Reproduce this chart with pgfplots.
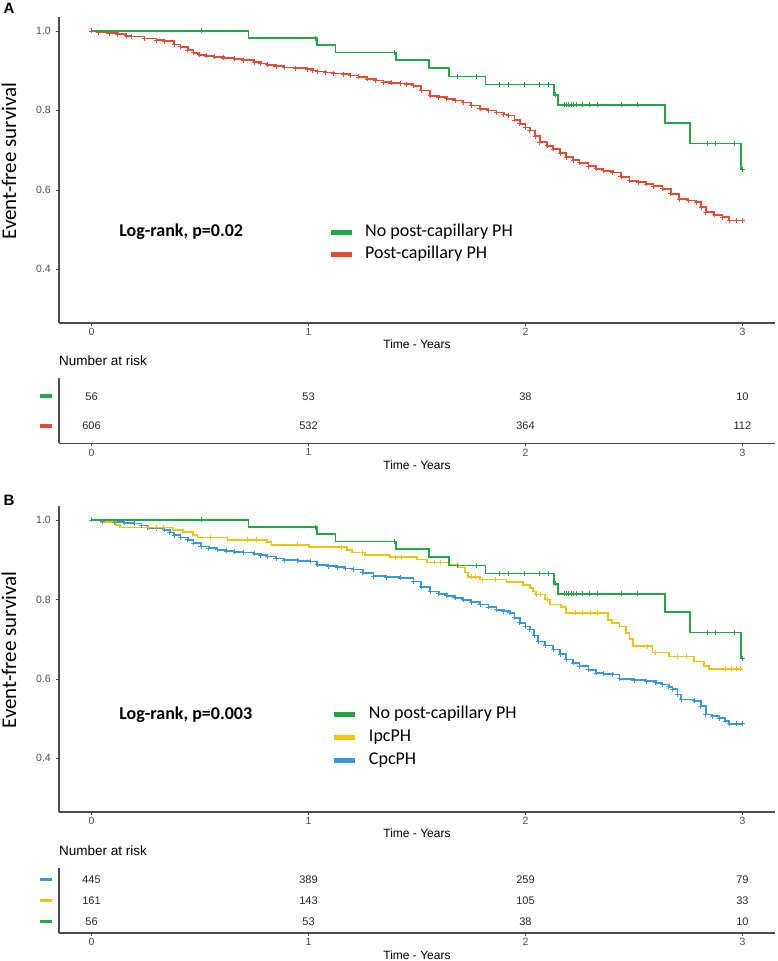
\documentclass[border=0pt]{standalone}
\usepackage{fontspec}
\setmainfont{Liberation Sans}
\newfontfamily\carlito{Carlito}
\usepackage{pgfplots}
\pgfplotsset{compat=1.18}
\usepackage{pgfplotstable}

\definecolor{cgreen}{RGB}{33,166,72}
\definecolor{cred}{RGB}{230,75,53}
\definecolor{cyel}{RGB}{240,194,12}
\definecolor{cblue}{RGB}{58,151,221}
\definecolor{axgray}{RGB}{77,77,77}

% Green: No post-capillary PH (steps)
\pgfplotstableread{
t s
0 1.0
0.723 0.982
1.04 0.964
1.124 0.946
1.403 0.927
1.556 0.906
1.649 0.885
1.815 0.865
2.131 0.839
2.15 0.814
2.643 0.769
2.758 0.717
2.992 0.651
3.0 0.651
}\greenS
\pgfplotstableread{
t s
0.504 1.0
1.03 0.982
1.395 0.946
1.686 0.885
1.775 0.885
1.882 0.865
1.92 0.865
1.994 0.865
2.066 0.865
2.104 0.865
2.14 0.839
2.18 0.814
2.19 0.814
2.20 0.814
2.21 0.814
2.22 0.814
2.235 0.814
2.26 0.814
2.295 0.814
2.33 0.814
2.444 0.814
2.515 0.814
2.839 0.717
2.874 0.717
2.965 0.717
3.0 0.651
}\greenC
% Red: Post-capillary PH
\pgfplotstableread{
t s
0 1.0
0.03 0.997
0.08 0.994
0.121 0.992
0.16 0.988
0.182 0.986
0.244 0.981
0.30 0.977
0.335 0.974
0.381 0.966
0.41 0.960
0.443 0.952
0.47 0.945
0.496 0.940
0.53 0.937
0.565 0.935
0.61 0.932
0.657 0.930
0.70 0.926
0.749 0.921
0.78 0.918
0.810 0.915
0.85 0.911
0.887 0.908
0.94 0.906
0.994 0.904
1.02 0.900
1.040 0.898
1.08 0.895
1.116 0.893
1.16 0.891
1.193 0.888
1.23 0.884
1.270 0.879
1.31 0.875
1.346 0.871
1.38 0.869
1.423 0.868
1.45 0.866
1.484 0.862
1.52 0.850
1.560 0.837
1.60 0.833
1.637 0.829
1.675 0.825
1.713 0.820
1.75 0.812
1.790 0.804
1.83 0.800
1.867 0.795
1.90 0.790
1.920 0.787
1.95 0.776
1.974 0.766
2.00 0.757
2.020 0.749
2.045 0.735
2.066 0.720
2.10 0.711
2.127 0.703
2.16 0.692
2.188 0.682
2.22 0.675
2.249 0.668
2.29 0.660
2.326 0.653
2.36 0.648
2.402 0.644
2.44 0.633
2.479 0.623
2.52 0.619
2.556 0.615
2.59 0.609
2.632 0.603
2.67 0.590
2.709 0.577
2.75 0.573
2.786 0.569
2.81 0.556
2.831 0.544
2.87 0.537
2.908 0.531
2.938 0.523
2.97 0.523
3.0 0.523
}\redS
% Yellow: IpcPH
\pgfplotstableread{
t s
0 1.0
0.045 0.994
0.113 0.987
0.13 0.981
0.374 0.975
0.42 0.969
0.466 0.962
0.489 0.956
0.627 0.950
0.810 0.944
0.83 0.937
1.001 0.931
1.178 0.925
1.20 0.918
1.26 0.912
1.377 0.906
1.499 0.900
1.545 0.893
1.645 0.887
1.690 0.880
1.72 0.868
1.736 0.857
1.790 0.850
1.913 0.843
1.989 0.837
2.020 0.829
2.035 0.820
2.050 0.812
2.089 0.800
2.112 0.787
2.165 0.781
2.188 0.766
2.379 0.748
2.40 0.741
2.433 0.732
2.464 0.716
2.48 0.700
2.494 0.682
2.586 0.666
2.663 0.656
2.778 0.644
2.824 0.632
2.847 0.625
3.0 0.625
}\yelS
\pgfplotstableread{
t s
0.26 0.981
0.30 0.981
0.33 0.981
0.55 0.956
0.72 0.950
0.76 0.950
0.95 0.937
1.15 0.931
1.25 0.918
1.40 0.906
1.43 0.906
1.58 0.893
1.61 0.893
1.75 0.857
1.77 0.857
1.80 0.850
1.86 0.850
2.05 0.812
2.07 0.812
2.10 0.800
2.23 0.766
2.26 0.766
2.30 0.766
2.33 0.766
2.56 0.682
2.60 0.666
2.70 0.656
2.74 0.656
2.92 0.625
2.95 0.625
2.97 0.625
2.99 0.625
}\yelC
% Blue: CpcPH
\pgfplotstableread{
t s
0 1.0
0.05 0.997
0.106 0.994
0.15 0.993
0.198 0.991
0.23 0.986
0.259 0.980
0.30 0.978
0.335 0.975
0.36 0.968
0.381 0.962
0.41 0.956
0.443 0.950
0.47 0.942
0.504 0.933
0.54 0.929
0.580 0.925
0.62 0.922
0.657 0.920
0.70 0.918
0.749 0.915
0.78 0.911
0.810 0.908
0.85 0.903
0.887 0.899
0.95 0.897
1.009 0.895
1.040 0.887
1.09 0.884
1.132 0.881
1.17 0.878
1.208 0.875
1.25 0.867
1.300 0.858
1.36 0.856
1.423 0.854
1.484 0.845
1.52 0.832
1.560 0.820
1.60 0.814
1.637 0.809
1.675 0.804
1.713 0.799
1.75 0.793
1.790 0.787
1.83 0.781
1.867 0.774
1.90 0.770
1.928 0.766
1.95 0.754
1.974 0.741
2.00 0.732
2.020 0.724
2.04 0.709
2.058 0.694
2.09 0.684
2.127 0.674
2.16 0.662
2.188 0.649
2.22 0.640
2.249 0.632
2.29 0.623
2.326 0.615
2.36 0.613
2.402 0.611
2.433 0.600
2.50 0.597
2.556 0.594
2.60 0.590
2.632 0.586
2.66 0.580
2.678 0.574
2.70 0.561
2.717 0.548
2.778 0.545
2.808 0.531
2.831 0.510
2.86 0.506
2.893 0.501
2.92 0.494
2.938 0.487
2.97 0.487
3.0 0.487
}\blueS

\pgfplotsset{
  km/.style={
    scale only axis, width=716pt, height=306pt, anchor=south west,
    xmin=-0.15, xmax=3.15, ymin=0.265, ymax=1.035,
    axis x line=bottom, axis y line=left,
    axis line style={-, line width=1.1pt, black!70},
    tick align=outside, major tick length=3pt,
    tick style={black!70, line width=0.6pt},
    xtick={0,1,2,3}, xticklabels={0,1,2,3},
    ytick={0.4,0.6,0.8,1.0}, yticklabels={0.4,0.6,0.8,1.0},
    xticklabel style={font=\fontsize{10.5}{12}\selectfont, text=axgray, anchor=north, inner sep=0pt, yshift=-2pt},
    yticklabel style={font=\fontsize{10.5}{12}\selectfont, text=axgray, anchor=east, inner sep=0pt, xshift=-5pt},
    xlabel={Time - Years},
    xlabel style={font=\fontsize{12}{14}\selectfont, at={(axis description cs:0.5,0)}, anchor=base, yshift=-26pt},
    ylabel={Event-free survival},
    ylabel style={font=\carlito\fontsize{21}{24}\selectfont, at={(axis description cs:-0.0698,0.529)}, anchor=center},
    legend cell align=left,
    legend image code/.code={\draw[line width=5pt] (0pt,0pt) -- (21pt,0pt);},
  },
  rt/.style={
    scale only axis, width=716pt, height=65pt, anchor=south west,
    xmin=-0.15, xmax=3.15,
    axis x line=bottom, axis y line=left,
    axis line style={-, line width=1.1pt, black!70},
    tick align=outside, major tick length=3pt,
    xtick style={black!70, line width=0.6pt}, ytick style={draw=none},
    xtick={0,1,2,3}, xticklabels={0,1,2,3},
    xticklabel style={font=\fontsize{10.5}{12}\selectfont, text=axgray, anchor=north, inner sep=0pt, yshift=-2pt},
    yticklabel style={anchor=east, inner sep=0pt, xshift=-4pt},
    xlabel={Time - Years},
    xlabel style={font=\fontsize{12}{14}\selectfont, at={(axis description cs:0.5,0)}, anchor=base, yshift=-26pt},
    title={Number at risk},
    title style={at={(axis description cs:0,1)}, anchor=base west, yshift=7pt, font=\fontsize{13.5}{15}\selectfont, inner sep=0pt},
  },
  curve/.style={const plot, no marks, line width=1.7pt},
  cens/.style={only marks, mark=+, mark size=2.5pt, mark options={line width=0.8pt}},
  risk/.style={draw=none, mark=none, nodes near coords, point meta=explicit symbolic,
    every node near coord/.style={anchor=center, font=\fontsize{11}{13}\selectfont, text=black!85}},
}

\begin{document}
\begin{tikzpicture}
\useasboundingbox (0,0) rectangle (777pt,961pt);

% ---------- Panel A ----------
\begin{axis}[km, at={(59pt,638pt)},
  legend style={draw=none, fill=none, inner sep=0pt, at={(0.3757,0.3235)}, anchor=north west,
    font=\carlito\fontsize{18}{20}\selectfont, row sep=6pt,
    nodes={inner sep=0pt, text height=12pt, text depth=4pt, xshift=0pt},
    /tikz/every odd column/.style={column sep=11pt}}]
\addplot[curve, cred, forget plot] table[x=t,y=s] {\redS};
\addplot[cens, cred, forget plot] table[x=t,y=s] {\redS};
\addplot[curve, cgreen, forget plot] table[x=t,y=s] {\greenS};
\addplot[cens, cgreen, forget plot] table[x=t,y=s] {\greenC};
\addlegendimage{cgreen}
\addlegendentry{No post-capillary PH}
\addlegendimage{cred}
\addlegendentry{Post-capillary PH}
\node[anchor=west, inner sep=0pt, font=\carlito\bfseries\fontsize{18}{20}\selectfont] at (axis cs:0.127,0.495) {Log-rank, p=0.02};
\end{axis}

\begin{axis}[rt, at={(59pt,517.5pt)}, ymin=0.4, ymax=2.6,
  ytick={1,2}, yticklabels={{\color{cred}\rule{12pt}{3.5pt}},{\color{cgreen}\rule{12pt}{3.5pt}}}]
\addplot[risk] table[x=x,y=y,meta=n] {
x y n
0 2 56
1 2 53
2 2 38
3 2 10
0 1 606
1 1 532
2 1 364
3 1 112
};
\end{axis}

% ---------- Panel B ----------
\begin{axis}[km, at={(59pt,149pt)},
  legend style={draw=none, fill=none, inner sep=0pt, at={(0.381,0.346)}, anchor=north west,
    font=\carlito\fontsize{18}{20}\selectfont, row sep=7pt,
    nodes={inner sep=0pt, text height=12pt, text depth=4pt},
    /tikz/every odd column/.style={column sep=11pt}}]
\addplot[curve, cblue, forget plot] table[x=t,y=s] {\blueS};
\addplot[cens, cblue, forget plot] table[x=t,y=s] {\blueS};
\addplot[curve, cyel, forget plot] table[x=t,y=s] {\yelS};
\addplot[cens, cyel, forget plot] table[x=t,y=s] {\yelC};
\addplot[curve, cgreen, forget plot] table[x=t,y=s] {\greenS};
\addplot[cens, cgreen, forget plot] table[x=t,y=s] {\greenC};
\addlegendimage{cgreen}
\addlegendentry{No post-capillary PH}
\addlegendimage{cyel}
\addlegendentry{IpcPH}
\addlegendimage{cblue}
\addlegendentry{CpcPH}
\node[anchor=west, inner sep=0pt, font=\carlito\bfseries\fontsize{18}{20}\selectfont] at (axis cs:0.127,0.509) {Log-rank, p=0.003};
\end{axis}

\begin{axis}[rt, at={(59pt,28pt)}, ymin=0.45, ymax=3.55,
  ytick={1,2,3}, yticklabels={{\color{cgreen}\rule{12pt}{3.5pt}},{\color{cyel}\rule{12pt}{3.5pt}},{\color{cblue}\rule{12pt}{3.5pt}}}]
\addplot[risk] table[x=x,y=y,meta=n] {
x y n
0 3 445
1 3 389
2 3 259
3 3 79
0 2 161
1 2 143
2 2 105
3 2 33
0 1 56
1 1 53
2 1 38
3 1 10
};
\end{axis}

\node[font=\bfseries\fontsize{15}{17}\selectfont] at (9pt,953pt) {A};
\node[font=\bfseries\fontsize{15}{17}\selectfont] at (9pt,461pt) {B};
\end{tikzpicture}
\end{document}
